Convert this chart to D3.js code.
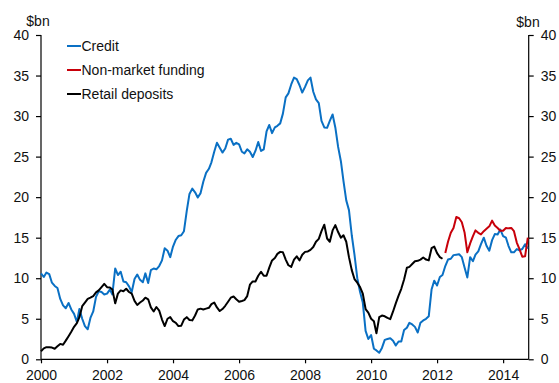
<!DOCTYPE html>
<html>
<head>
<meta charset="utf-8">
<script src="https://cdn.jsdelivr.net/npm/d3@7/dist/d3.min.js"></script>
<style>
  html, body { margin: 0; padding: 0; background: #fff; }
  svg { display: block; font-family: Arial, "Liberation Sans", Helvetica, sans-serif; }
</style>
</head>
<body>
<svg id="chart" width="559" height="383"></svg>
<script>
// Monthly series, $bn, starting January 2000
const startMonth = [2000, 0];

const credit = [
  10.6, 10.15, 10.7, 10.5, 9.45, 9.05, 8.8, 7.45, 6.65, 6.3, 6.95, 6.15,
  5.6, 4.6, 6.2, 5.0, 4.1, 3.7, 5.1, 5.9, 7.7, 8.4, 8.3, 8.0,
  8.1, 8.6, 8.0, 11.2, 10.4, 10.8, 9.6, 9.5, 9.0, 8.3, 9.9, 10.45,
  9.8, 9.5, 10.6, 9.4, 11.0, 11.2, 11.1, 11.5, 12.2, 13.7, 13.4, 12.6,
  13.9, 14.75, 15.2, 15.3, 15.8, 18.3, 20.4, 21.05, 20.6, 19.95, 20.5, 21.9,
  23.0, 23.5, 24.3, 25.6, 26.7, 26.1, 25.5, 26.0, 27.1, 27.2, 26.45, 26.7,
  26.5, 25.6, 25.4, 25.9, 25.6, 24.95, 25.7, 26.8, 25.7, 25.9, 28.1, 28.9,
  27.9, 28.6, 28.8, 29.1, 30.3, 32.3, 32.8, 33.9, 34.75, 34.55, 33.8, 32.9,
  33.6, 34.4, 34.75, 33.0, 32.05, 31.6, 29.4, 28.6, 28.55, 29.4, 30.2, 28.6,
  26.2, 24.4, 22.0, 19.6, 18.4, 15.3, 12.9, 10.0, 8.3, 7.0, 3.5, 2.5,
  3.0, 1.3, 1.1, 0.8, 1.4, 2.4, 2.5, 2.6, 2.3, 1.7, 2.2, 2.2,
  3.6, 3.9, 4.5, 4.3, 4.0, 3.3, 4.5, 4.8, 5.0, 5.3, 8.6, 9.7,
  9.1, 10.15, 10.4, 11.5, 12.3, 12.4, 12.85, 12.9, 12.95, 12.6, 11.3, 10.1,
  12.6, 12.1, 12.9, 13.3, 14.2, 15.0, 14.0, 13.4, 14.7, 15.45, 15.4, 16.0,
  15.2, 15.0, 14.0, 13.2, 13.2, 13.6, 13.45, 13.6, 14.2, 13.65
];

// Non-market funding starts April 2012 (month index 147)
const nonMarketStart = 147;
const nonMarketFunding = [
  13.1, 14.5, 15.6, 16.2, 17.55, 17.4, 16.9, 15.6, 13.2,
  14.3, 15.2, 15.9, 15.6, 15.4, 15.8, 16.1, 16.4, 17.1, 16.5, 16.2, 15.85,
  15.85, 16.2, 16.15, 16.2, 15.8, 14.4, 13.6, 12.65, 12.7, 15.0
];

const retailDeposits = [
  1.0, 1.35, 1.5, 1.5, 1.45, 1.3, 1.6, 1.9, 1.8, 2.3, 2.85, 3.4,
  4.0, 4.45, 5.2, 6.55, 7.0, 7.45, 7.6, 7.8, 8.25, 8.5, 8.9, 9.3,
  8.9, 8.85, 8.6, 6.9, 8.1, 8.5, 8.4, 8.7, 8.3, 8.1, 7.2, 6.7,
  7.0, 7.25, 7.6, 7.4, 6.4, 5.9, 6.45, 6.0, 4.9, 4.1, 5.0, 5.2,
  4.7, 4.5, 4.1, 4.15, 4.9, 5.2, 4.85, 4.8, 5.4, 6.15, 6.25, 6.15,
  6.25, 6.35, 6.8, 7.0, 6.4, 5.95, 6.2, 6.6, 7.1, 7.6, 7.75, 7.4,
  7.1, 7.2, 7.3, 7.8, 9.2, 9.6, 9.6, 10.3, 10.8, 10.3, 10.3, 11.3,
  12.2, 12.5, 13.0, 13.25, 13.2, 12.3, 11.6, 11.4, 12.3, 12.7, 12.2, 12.9,
  13.25, 13.3, 13.5, 13.85, 14.5, 14.85, 15.8, 16.6, 14.9, 14.5, 15.9, 16.55,
  15.7, 15.0, 15.3, 14.5, 12.6, 11.0, 9.9, 9.45, 8.9, 8.1, 6.2, 5.75,
  5.0, 4.7, 3.2, 5.2, 5.4, 5.3, 5.1, 4.95, 5.9, 6.9, 7.85, 8.7,
  9.85, 11.3, 11.4, 11.75, 12.1, 12.15, 12.3, 12.55, 12.3, 12.2, 13.7, 13.9,
  13.1, 12.6, 12.4
];

const yTicks = [0, 5, 10, 15, 20, 25, 30, 35, 40];
const xTickYears = [2000, 2002, 2004, 2006, 2008, 2010, 2012, 2014];
const unitLabel = "$bn";

const seriesInfo = [
  { name: "Credit", color: "#0a70c4", start: 0, values: credit },
  { name: "Non-market funding", color: "#c8000a", start: nonMarketStart, values: nonMarketFunding },
  { name: "Retail deposits", color: "#000000", start: 0, values: retailDeposits }
];

const monthDate = i => new Date(startMonth[0], startMonth[1] + i, 1);

const svg = d3.select("#chart");
const plotLeft = 41, plotRight = 528.7, plotTop = 35, plotBottom = 359.3;

const x = d3.scaleTime()
  .domain([new Date(2000, 0, 1), new Date(2014, 9, 11)])
  .range([plotLeft, plotRight]);
const y = d3.scaleLinear().domain([0, 40]).range([plotBottom, plotTop]);

const fontSize = 14;

// Left axis
const yAxisL = d3.axisLeft(y).tickValues(yTicks).tickSize(5).tickPadding(7);
const gL = svg.append("g").attr("transform", `translate(${plotLeft},0)`).call(yAxisL);
// Right axis
const yAxisR = d3.axisRight(y).tickValues(yTicks).tickSize(5).tickPadding(7);
const gR = svg.append("g").attr("transform", `translate(${plotRight},0)`).call(yAxisR);
// Bottom axis
const xAxis = d3.axisBottom(x)
  .tickValues(xTickYears.map(yr => new Date(yr, 0, 1)))
  .tickFormat(d3.timeFormat("%Y"))
  .tickSize(4).tickPadding(7);
const gX = svg.append("g").attr("transform", `translate(0,${plotBottom})`).call(xAxis);

[gL, gR, gX].forEach(g => {
  g.select(".domain").attr("stroke", "#000").attr("stroke-width", 1.2);
  g.selectAll(".tick line").attr("stroke", "#000").attr("stroke-width", 1.2);
  g.selectAll(".tick text")
    .attr("fill", "#111")
    .style("font-size", fontSize + "px")
    .style("font-family", "Arial, 'Liberation Sans', sans-serif");
});
// flat axis lines without end caps
gL.select(".domain").attr("d", `M0,${plotTop}V${plotBottom}`);
gR.select(".domain").attr("d", `M0,${plotTop}V${plotBottom}`);
gX.select(".domain").attr("d", `M${plotLeft},0H${plotRight}`);

// Unit labels
svg.append("text").attr("x", 38).attr("y", 26).attr("text-anchor", "middle")
  .style("font-size", fontSize + "px").attr("fill", "#111").text(unitLabel);
svg.append("text").attr("x", 528).attr("y", 27).attr("text-anchor", "middle")
  .style("font-size", fontSize + "px").attr("fill", "#111").text(unitLabel);

// Series lines
const line = d3.line()
  .x(d => x(d.date))
  .y(d => y(d.value));

seriesInfo.forEach(s => {
  const pts = s.values.map((v, i) => ({ date: monthDate(s.start + i), value: v }));
  svg.append("path")
    .datum(pts)
    .attr("fill", "none")
    .attr("stroke", s.color)
    .attr("stroke-width", 2)
    .attr("stroke-linejoin", "round")
    .attr("d", line);
});

// Legend
const legend = svg.append("g").attr("transform", "translate(67,46)");
seriesInfo.forEach((s, i) => {
  const g = legend.append("g").attr("transform", `translate(0,${i * 24})`);
  g.append("line").attr("x1", 0).attr("x2", 14).attr("y1", 0).attr("y2", 0)
    .attr("stroke", s.color).attr("stroke-width", 2);
  g.append("text").attr("x", 14.5).attr("y", 5)
    .style("font-size", fontSize + "px").attr("fill", "#111").text(s.name);
});
</script>
</body>
</html>
